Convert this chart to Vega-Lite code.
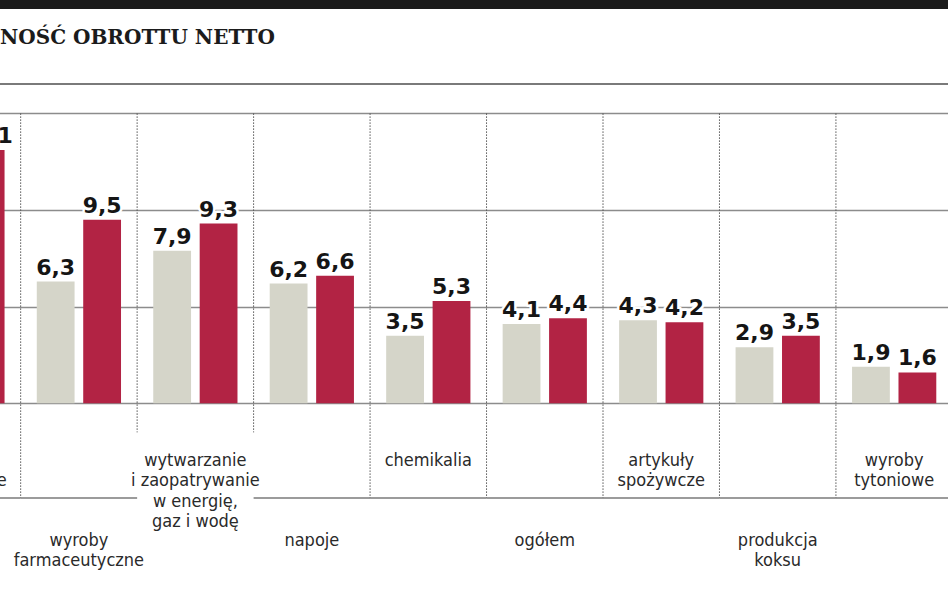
{
  "$schema": "https://vega.github.io/schema/vega-lite/v6.json",
  "width": 1048.2,
  "height": 584,
  "autosize": "none",
  "padding": {"left": -95.8, "right": -4.4, "top": 9, "bottom": 0},
  "background": "#1b1b1b",
  "config": {
    "view": {"fill": "white", "stroke": null},
    "locale": {"number": {"decimal": ",", "thousands": " ", "grouping": [3], "currency": ["", " zł"]}}
  },
  "title": {
    "text": "NOŚĆ OBROTTU NETTO",
    "anchor": "start",
    "frame": "group",
    "orient": "top",
    "offset": -55,
    "baseline": "alphabetic",
    "dx": 95.8,
    "font": "DejaVu Serif",
    "fontSize": 20,
    "fontWeight": "bold",
    "color": "#1b1b1b"
  },
  "datasets": {
    "bars": [
      {"cat": "surowce", "series": "2012", "value": 11.2},
      {"cat": "surowce", "series": "2013", "value": 13.1},
      {"cat": "farmacja", "series": "2012", "value": 6.3},
      {"cat": "farmacja", "series": "2013", "value": 9.5},
      {"cat": "energia", "series": "2012", "value": 7.9},
      {"cat": "energia", "series": "2013", "value": 9.3},
      {"cat": "napoje", "series": "2012", "value": 6.2},
      {"cat": "napoje", "series": "2013", "value": 6.6},
      {"cat": "chemikalia", "series": "2012", "value": 3.5},
      {"cat": "chemikalia", "series": "2013", "value": 5.3},
      {"cat": "ogolem", "series": "2012", "value": 4.1},
      {"cat": "ogolem", "series": "2013", "value": 4.4},
      {"cat": "spozywcze", "series": "2012", "value": 4.3},
      {"cat": "spozywcze", "series": "2013", "value": 4.2},
      {"cat": "koks", "series": "2012", "value": 2.9},
      {"cat": "koks", "series": "2013", "value": 3.5},
      {"cat": "tytoniowe", "series": "2012", "value": 1.9},
      {"cat": "tytoniowe", "series": "2013", "value": 1.6}
    ],
    "cats": [
      {"cat": "surowce", "i": 0, "label": "surowce\nmetaliczne"},
      {"cat": "farmacja", "i": 1, "label": "wyroby\nfarmaceutyczne"},
      {"cat": "energia", "i": 2, "label": "wytwarzanie\ni zaopatrywanie\nw energię,\ngaz i wodę"},
      {"cat": "napoje", "i": 3, "label": "napoje"},
      {"cat": "chemikalia", "i": 4, "label": "chemikalia"},
      {"cat": "ogolem", "i": 5, "label": "ogółem"},
      {"cat": "spozywcze", "i": 6, "label": "artykuły\nspożywcze"},
      {"cat": "koks", "i": 7, "label": "produkcja\nkoksu"},
      {"cat": "tytoniowe", "i": 8, "label": "wyroby\ntytoniowe"}
    ]
  },
  "layer": [
    {
      "data": {"name": "bars"},
      "mark": {"type": "bar"},
      "encoding": {
        "x": {
          "field": "cat", "type": "nominal", "axis": null,
          "scale": {
            "domain": ["surowce", "farmacja", "energia", "napoje", "chemikalia", "ogolem", "spozywcze", "koks", "tytoniowe"],
            "paddingInner": 0, "paddingOuter": 0
          }
        },
        "xOffset": {
          "field": "series", "type": "nominal",
          "scale": {"paddingInner": 0.186, "paddingOuter": 0.347}
        },
        "y": {
          "field": "value", "type": "quantitative",
          "scale": {"domain": [-9.81, 20.40], "nice": false, "zero": false},
          "axis": {
            "values": [0, 5, 10, 15], "labels": false, "ticks": false,
            "domain": false, "title": null, "grid": true,
            "gridColor": "#8c8c8c", "gridWidth": 1.6
          }
        },
        "color": {
          "field": "series", "type": "nominal", "legend": null,
          "scale": {"range": ["#d5d5c9", "#b22344"]}
        }
      }
    },
    {
      "data": {"name": "bars"},
      "mark": {"type": "text", "font": "DejaVu Sans", "fontWeight": "bold", "fontSize": 22, "baseline": "alphabetic", "dy": -7, "stroke": "white", "strokeWidth": 5, "strokeJoin": "round", "fill": "white"},
      "encoding": {
        "x": {"field": "cat", "type": "nominal"},
        "xOffset": {"field": "series", "type": "nominal"},
        "y": {"field": "value", "type": "quantitative"},
        "text": {"field": "value", "type": "quantitative", "format": ".1f"}
      }
    },
    {
      "data": {"name": "bars"},
      "mark": {"type": "text", "font": "DejaVu Sans", "fontWeight": "bold", "fontSize": 22, "baseline": "alphabetic", "dy": -7, "color": "#151515"},
      "encoding": {
        "x": {"field": "cat", "type": "nominal"},
        "xOffset": {"field": "series", "type": "nominal"},
        "y": {"field": "value", "type": "quantitative"},
        "text": {"field": "value", "type": "quantitative", "format": ".1f"}
      }
    },
    {
      "data": {"name": "cats"},
      "transform": [{"filter": "datum.i >= 1 && datum.i != 2 && datum.i != 3"}],
      "mark": {"type": "rule", "color": "#555555", "strokeWidth": 1, "strokeDash": [1.5, 1.5]},
      "encoding": {
        "x": {"field": "cat", "type": "nominal", "bandPosition": 0},
        "y": {"datum": 15},
        "y2": {"datum": -4.9}
      }
    },
    {
      "data": {"name": "cats"},
      "transform": [{"filter": "datum.i == 2 || datum.i == 3"}],
      "mark": {"type": "rule", "color": "#555555", "strokeWidth": 1, "strokeDash": [1.5, 1.5]},
      "encoding": {
        "x": {"field": "cat", "type": "nominal", "bandPosition": 0},
        "y": {"datum": 15},
        "y2": {"datum": -1.5}
      }
    },
    {
      "data": {"name": "cats"},
      "transform": [{"filter": "datum.i != 2"}],
      "mark": {"type": "bar", "color": "#7a7a7a"},
      "encoding": {
        "x": {"field": "cat", "type": "nominal"},
        "y": {"datum": -4.86},
        "y2": {"datum": -4.94}
      }
    },
    {
      "data": {"values": [{"line": "top"}]},
      "mark": {"type": "rule", "color": "#7a7a7a", "strokeWidth": 2},
      "encoding": {
        "y": {"datum": 16.52}
      }
    },
    {
      "data": {"name": "cats"},
      "transform": [{"calculate": "datum.i % 2 == 0 ? -2.5 : -6.65", "as": "ly"}],
      "mark": {"type": "text", "font": "DejaVu Sans Condensed", "fontSize": 18, "lineBreak": "\n", "lineHeight": 20.5, "baseline": "top", "align": "center", "color": "#2a2a2a"},
      "encoding": {
        "x": {"field": "cat", "type": "nominal"},
        "y": {"field": "ly", "type": "quantitative"},
        "text": {"field": "label"}
      }
    }
  ]
}
